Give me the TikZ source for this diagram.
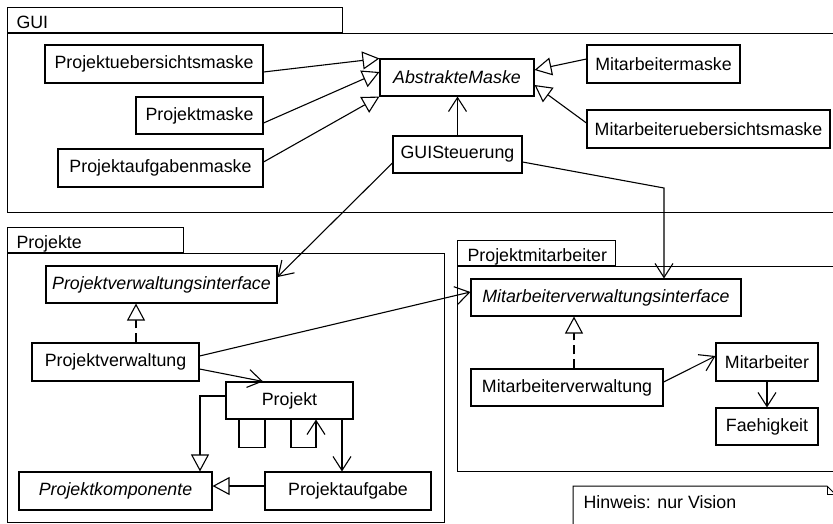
\documentclass[tikz,border=0pt]{standalone}
\usepackage{fontspec}
\setmainfont{Liberation Sans}
\usetikzlibrary{arrows.meta,calc}
\begin{document}
\begin{tikzpicture}[x=1pt,y=-1pt,
  line width=1.1pt,
  cls/.style={draw,rectangle,inner sep=0pt,font=\fontsize{17.8}{20}\selectfont},
  abs/.style={cls,font=\fontsize{17.8}{20}\selectfont\itshape},
  lbl/.style={anchor=base west,inner sep=0pt,font=\fontsize{17.8}{20}\selectfont},
  pkg/.style={draw,line width=1pt},
  tabline/.style={line width=1.8pt},
  assoc/.style={-{Straight Barb[length=14pt,width=18pt]}},
  gen/.style={-{Triangle[open,length=17pt,width=18pt,fill=white]}},
  real/.style={gen,dash pattern=on 9pt off 5pt}
]
\useasboundingbox (0,0) rectangle (833,523);
\fill[white] (0,0) rectangle (833,523);

% ---- packages ----
\draw[pkg] (7,7) rectangle (342,33);
\draw[pkg] (845,33) -- (7,33) -- (7,212) -- (845,212);
\draw[tabline] (7,33) -- (342,33);
\node[lbl] (guilbl) at (16,28) {GUI};

\draw[pkg] (7,227) rectangle (183,253);
\draw[pkg] (7,253) rectangle (444,522);
\draw[tabline] (7,253) -- (183,253);
\node[lbl] (projlbl) at (16,248) {Projekte};

\draw[pkg] (457,240) rectangle (615,266);
\draw[pkg] (845,266) -- (457,266) -- (457,471) -- (845,471);
\draw[tabline] (457,266) -- (615,266);
\node[lbl] (pmlbl) at (467,261) {Projektmitarbeiter};

% note
\draw[pkg] (573,540) -- (573,486) -- (827,486) -- (840,499) -- (840,540);
\draw[pkg] (827,486) -- (827,494) -- (840,494);
\node[lbl] (note) at (583,508) {Hinweis: nur Vision};

% ---- classes ----
\node[cls,minimum width=218pt,minimum height=38pt] (pum) at (154,64) {Projektuebersichtsmaske};
\node[cls,minimum width=127pt,minimum height=37pt] (pm) at (199.5,115.5) {Projektmaske};
\node[cls,minimum width=205pt,minimum height=38pt] (pam) at (160.5,168) {Projektaufgabenmaske};
\node[abs,minimum width=154pt,minimum height=37pt] (am) at (457,77.5) {AbstrakteMaske};
\node[cls,minimum width=129pt,minimum height=37pt] (gs) at (457.5,154.5) {GUISteuerung};
\node[cls,minimum width=153pt,minimum height=38pt] (mm) at (663.5,64) {Mitarbeitermaske};
\node[cls,minimum width=243pt,minimum height=38pt] (mum) at (708.5,129) {Mitarbeiteruebersichtsmaske};

\node[abs,minimum width=231pt,minimum height=37pt] (pvi) at (161.5,284.5) {Projektverwaltungsinterface};
\node[cls,minimum width=167pt,minimum height=38pt] (pv) at (115.5,362) {Projektverwaltung};
\node[cls,minimum width=127pt,minimum height=37pt] (p) at (289.5,400.5) {Projekt};
\node[abs,minimum width=193pt,minimum height=38pt] (pk) at (115.5,491) {Projektkomponente};
\node[cls,minimum width=166pt,minimum height=38pt] (pa) at (348,491) {Projektaufgabe};

\node[abs,minimum width=270pt,minimum height=37pt] (mvi) at (606,297.5) {Mitarbeiterverwaltungsinterface};
\node[cls,minimum width=192pt,minimum height=37pt] (mv) at (567,387.5) {Mitarbeiterverwaltung};
\node[cls,minimum width=102pt,minimum height=38pt] (m) at (767,362) {Mitarbeiter};
\node[cls,minimum width=102pt,minimum height=37pt] (f) at (767,426.5) {Faehigkeit};

% ---- connectors ----
\draw[gen] ([yshift=-8pt]pum.east) -- (am.north west);
\draw[gen] ([yshift=-7.5pt]pm.east) -- ([yshift=5.5pt]am.west);
\draw[gen] ([yshift=6pt]pam.east) -- (am.south west);
\draw[gen] ([yshift=5pt]mm.west) -- ([yshift=7.5pt]am.east);
\draw[gen] ([yshift=6pt]mum.west) -- ([yshift=-7.5pt]am.east);
\draw[assoc] (gs.north) -- (gs.north |- am.south);

\coordinate (bend) at (664,188);
\draw[assoc] ([yshift=-7.5pt]gs.east) -- (bend) -- (bend |- mvi.north);
\draw[assoc] ([yshift=-8.5pt]gs.west) -- ([yshift=7.5pt]pvi.east);

\draw[real] ([xshift=20.5pt]pv.north) -- ([xshift=20.5pt]pv.north |- pvi.south);
\draw[assoc] ([yshift=6pt]pv.east) -- ([yshift=5.5pt]mvi.west);
\draw[assoc] ([yshift=-7pt]pv.east) -- ([xshift=-26.5pt]p.north);

\draw[gen] ([yshift=4.5pt]p.west) -| ([xshift=84.5pt]pk.north);
\draw ([xshift=-50.5pt]p.south) -- ++(0,28) -| ([xshift=-24.5pt]p.south);
\draw[assoc] ([xshift=1.5pt]p.south) -- ++(0,28) -| ([xshift=26.5pt]p.south);
\draw[assoc] ([xshift=52.5pt]p.south) -- ([xshift=52.5pt]p.south |- pa.north);
\draw[gen] ([yshift=5pt]pa.west) -- ([yshift=5pt]pk.east);

\draw[real] ([xshift=7pt]mv.north) -- ([xshift=7pt]mv.north |- mvi.south);
\draw[assoc] ([yshift=5.5pt]mv.east) -- ([yshift=6pt]m.west);
\draw[assoc] (m.south) -- (f.north);
\end{tikzpicture}
\end{document}
